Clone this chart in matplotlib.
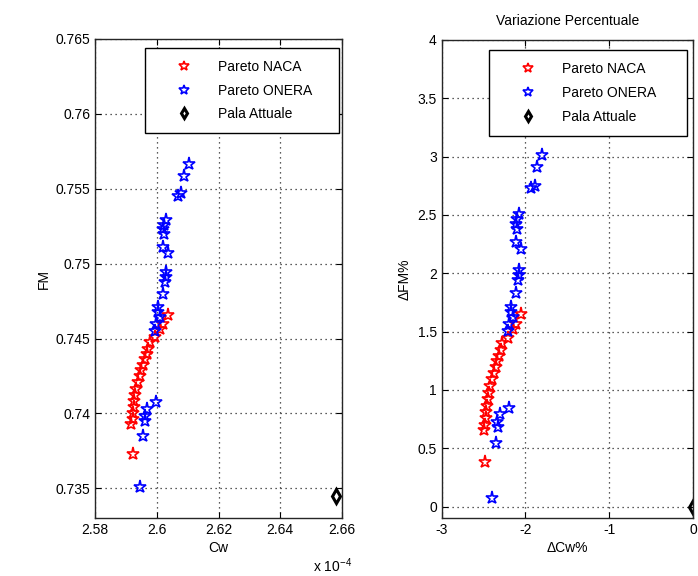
import matplotlib
matplotlib.use("Agg")
import matplotlib.pyplot as plt
from matplotlib.ticker import FormatStrFormatter

plt.rcParams['font.family'] = ['Liberation Sans', 'DejaVu Sans']
plt.rcParams['axes.unicode_minus'] = False
plt.rcParams['mathtext.default'] = 'regular'

# Pareto fronts (Cw in units of 1e-4)
cw_naca = [2.6037, 2.6020, 2.6010, 2.5994, 2.5977, 2.5972, 2.5967, 2.5961,
           2.5956, 2.5950, 2.5945, 2.5939, 2.5934, 2.5930, 2.5927, 2.5926,
           2.5924, 2.5922, 2.5918, 2.5923]
fm_naca = [0.7466, 0.7460, 0.74566, 0.74513, 0.74479, 0.74433, 0.74399, 0.74366,
           0.74326, 0.74292, 0.74252, 0.74212, 0.74165, 0.74125, 0.74085, 0.74045,
           0.74005, 0.73965, 0.73932, 0.7373]

cw_onera = [2.6104, 2.6088, 2.6069, 2.6080, 2.6031, 2.6024, 2.6020, 2.6024,
            2.6020, 2.6037, 2.6031, 2.6031, 2.6026, 2.6020, 2.6004, 2.6004,
            2.6010, 2.5999, 2.5994, 2.5999, 2.5970, 2.5961, 2.5963, 2.5956,
            2.5945]
fm_onera = [0.75666, 0.75587, 0.75454, 0.75469, 0.75292, 0.75260, 0.75232, 0.75198,
            0.75114, 0.75069, 0.74942, 0.74909, 0.74875, 0.74798, 0.74708, 0.74675,
            0.74642, 0.74597, 0.74553, 0.74074, 0.74030, 0.73985, 0.73952, 0.73852,
            0.73507]

# current blade
cw_pala = [2.6582]
fm_pala = [0.7345]


def pct(vals, ref):
    return [(v / ref - 1.0) * 100.0 for v in vals]


dcw_naca, dfm_naca = pct(cw_naca, cw_pala[0]), pct(fm_naca, fm_pala[0])
dcw_onera, dfm_onera = pct(cw_onera, cw_pala[0]), pct(fm_onera, fm_pala[0])
dcw_pala, dfm_pala = pct(cw_pala, cw_pala[0]), pct(fm_pala, fm_pala[0])

labels = ['Pareto NACA', 'Pareto ONERA', 'Pala Attuale']

fig = plt.figure(figsize=(6.98, 5.76), dpi=100)
ax1 = fig.add_axes([0.1361, 0.1002, 0.3539, 0.8321])
ax2 = fig.add_axes([0.6328, 0.1002, 0.3600, 0.8304])

star = dict(linestyle='none', marker='*', markersize=9.5, markerfacecolor='none',
            markeredgewidth=1.2)
diam = dict(linestyle='none', marker='d', markersize=7, markerfacecolor='none',
            markeredgecolor='black', markeredgewidth=2.2, color='black')


def style(ax):
    ax.grid(True, color='0.15', linestyle=(0, (1, 3)), linewidth=0.9)
    ax.tick_params(direction='in', top=True, right=True, length=4,
                   labelsize=10, colors='black')
    for s in ax.spines.values():
        s.set_linewidth(1.0)
        s.set_color('0.15')


def legend(ax, box):
    leg = ax.legend(labels, loc='upper left', bbox_to_anchor=box, mode='expand',
                    fontsize=10, frameon=True, fancybox=False, edgecolor='black',
                    framealpha=1, handlelength=3.9, handletextpad=0.5,
                    borderpad=0.85, labelspacing=0.7, markerscale=0.75,
                    borderaxespad=0)
    leg.get_frame().set_linewidth(1.0)


# absolute values
ax1.plot(cw_naca, fm_naca, color='red', **star)
ax1.plot(cw_onera, fm_onera, color='blue', **star)
ax1.plot(cw_pala, fm_pala, **diam)
ax1.set_xlim(2.58, 2.66)
ax1.set_ylim(0.733, 0.765)
ax1.set_xticks([2.58, 2.6, 2.62, 2.64, 2.66])
ax1.set_yticks([0.735, 0.74, 0.745, 0.75, 0.755, 0.76, 0.765])
ax1.xaxis.set_major_formatter(FormatStrFormatter('%g'))
ax1.yaxis.set_major_formatter(FormatStrFormatter('%g'))
ax1.set_xlabel('Cw', fontsize=10, labelpad=3)
ax1.set_ylabel('FM', fontsize=10, labelpad=3)
style(ax1)
legend(ax1, (0.2024, 0.0, 0.785, 0.981))
fig.text(0.4484, 0.0174, 'x 10$^{-4}$', fontsize=10, ha='left', va='center')

# percentage variation wrt current blade
ax2.plot(dcw_naca, dfm_naca, color='red', **star)
ax2.plot(dcw_onera, dfm_onera, color='blue', **star)
ax2.plot(dcw_pala, dfm_pala, **diam)
ax2.set_xlim(-3, 0)
ax2.set_ylim(-0.1, 4)
ax2.set_xticks([-3, -2, -1, 0])
ax2.set_yticks([0, 0.5, 1, 1.5, 2, 2.5, 3, 3.5, 4])
ax2.yaxis.set_major_formatter(FormatStrFormatter('%g'))
ax2.set_xlabel('\u0394Cw%', fontsize=10, labelpad=3)
ax2.set_ylabel('\u0394FM%', fontsize=10, labelpad=4)
ax2.set_title('Variazione Percentuale', fontsize=10, pad=11)
style(ax2)
legend(ax2, (0.188, 0.0, 0.79, 0.978))

fig.savefig('out.png', dpi=100, facecolor='white')
